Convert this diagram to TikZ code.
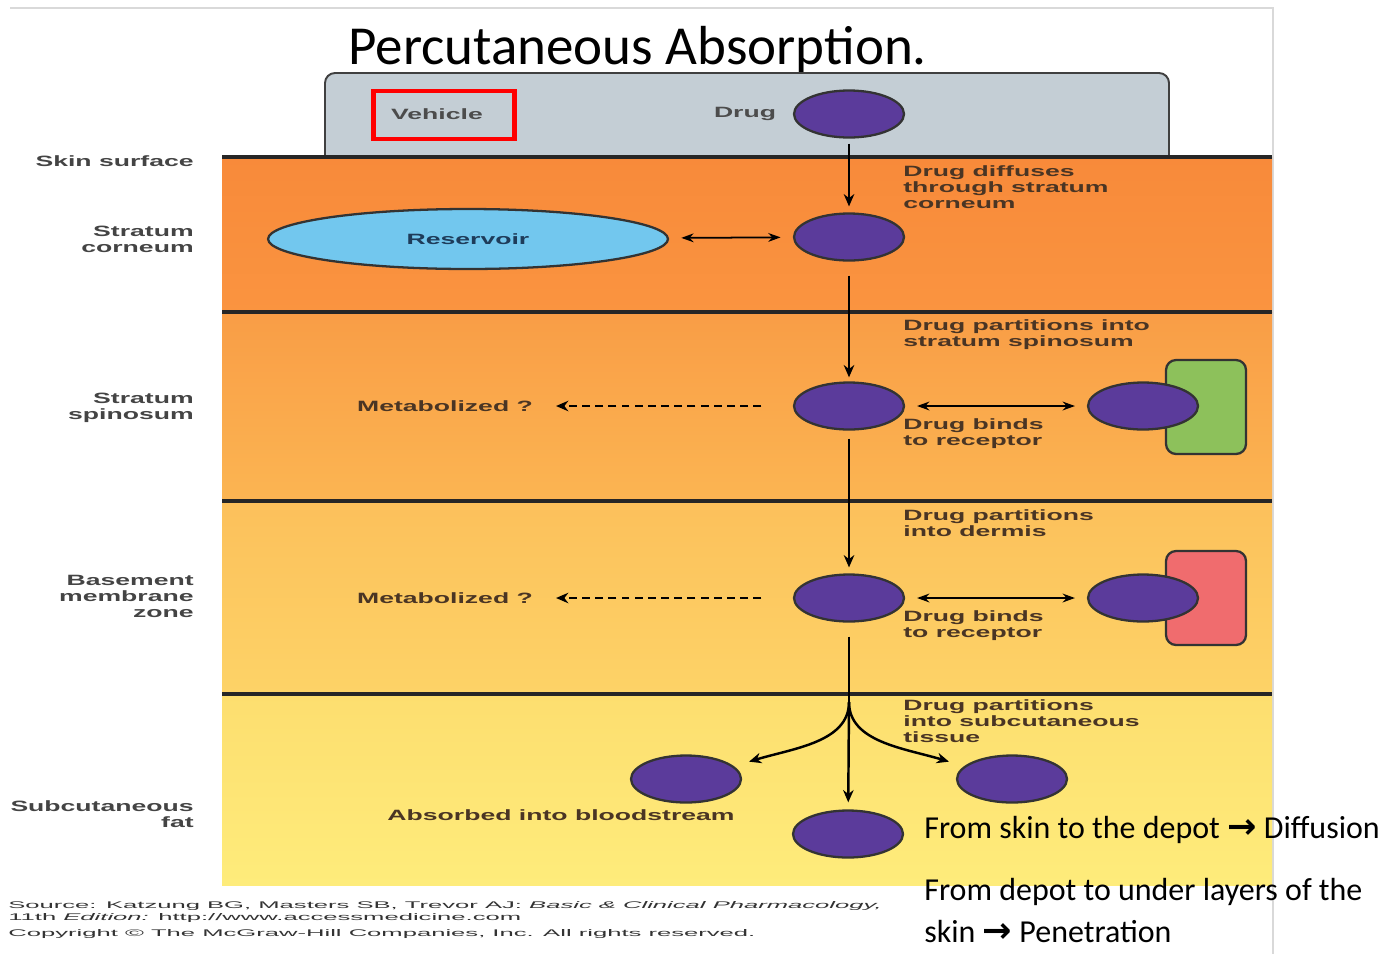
\documentclass[tikz,border=0pt]{standalone}
\usepackage{fontspec}
\setmainfont{Carlito}
\newfontfamily\figfont[FakeStretch=1.78]{Liberation Sans Bold}
\newfontfamily\srcfont[FakeStretch=2.65]{Liberation Sans}
\newfontfamily\symfont{DejaVu Sans}
\usetikzlibrary{shapes.geometric,arrows.meta}

\definecolor{drugpurple}{HTML}{5B3B9B}
\definecolor{vehiclegrey}{HTML}{C4CED5}
\definecolor{reservoirblue}{HTML}{72C7EE}
\definecolor{receptorgreen}{HTML}{8DC15B}
\definecolor{receptorred}{HTML}{F06C6E}
\definecolor{labelgrey}{HTML}{444444}
\definecolor{notebrown}{HTML}{4A3524}
\definecolor{slideedge}{HTML}{D9D9D9}

\begin{document}
\begin{tikzpicture}[x=0.02cm,y=-0.02cm,
		drug/.style={ellipse,draw=black!80,line width=1.3pt,fill=drugpurple,minimum width=2.2cm,minimum height=0.94cm,inner sep=0pt},
		receptor/.style={rectangle,rounded corners=0.2cm,draw=black!80,line width=1.3pt,minimum width=1.6cm,minimum height=1.88cm},
		layer/.style={line width=2.3pt,draw=black!85},
		flow/.style={-{Stealth[length=7pt,width=6pt]},line width=1.4pt},
		both/.style={{Stealth[length=7pt,width=5pt]}-{Stealth[length=7pt,width=5pt]},line width=1pt},
		guess/.style={-{Stealth[length=7pt,width=6pt]},line width=1pt,dash pattern=on 4.5pt off 3pt},
		lbl/.style={font=\figfont\fontsize{8.5pt}{9.1pt}\selectfont,text=notebrown,inner sep=0pt},
		note/.style={lbl,align=left,anchor=north west},
		side/.style={lbl,text=labelgrey,align=right,anchor=north east},
		src/.style={font=\srcfont\fontsize{5.5pt}{6pt}\selectfont,text=black!80,anchor=base west,inner sep=0pt},
		remark/.style={font=\fontsize{18.2pt}{21pt}\selectfont,anchor=base west,inner sep=0pt}]
		
		\useasboundingbox (0,0) rectangle (1398,954);
		\draw[slideedge,line width=1.2pt] (10,8) -- (1273,8) -- (1273,954);
		
		\node[anchor=base west,inner sep=0pt,font=\fontsize{31.3pt}{36pt}\selectfont] (title) at (348,64) {Percutaneous Absorption.};
		
		\draw[rounded corners=0.2cm,fill=vehiclegrey,draw=black!75,line width=1.1pt] (325,73) rectangle (1169,165);
		
		\shade[top color={rgb,255:red,248;green,138;blue,58},bottom color={rgb,255:red,250;green,148;blue,64}] (222,157) rectangle (1272,312);
		\shade[top color={rgb,255:red,249;green,157;blue,70},bottom color={rgb,255:red,251;green,181;blue,82}] (222,312) rectangle (1272,501);
		\shade[top color={rgb,255:red,252;green,192;blue,91},bottom color={rgb,255:red,253;green,211;blue,103}] (222,501) rectangle (1272,694);
		\shade[top color={rgb,255:red,253;green,222;blue,111},bottom color={rgb,255:red,254;green,236;blue,123}] (222,694) rectangle (1272,885);
		
		\draw[layer] (222,157) -- (1272,157);
		\draw[layer] (222,312) -- (1272,312);
		\draw[layer] (222,501) -- (1272,501);
		\draw[layer] (222,694) -- (1272,694);
		
		\node[side] (skin) at (194,155) {Skin surface};
		\node[side] (corneum) at (194,226) {Stratum\\corneum};
		\node[side] (spinosum) at (194,393) {Stratum\\spinosum};
		\node[side] (basement) at (194,575) {Basement\\membrane\\zone};
		\node[side] (fat) at (194,800) {Subcutaneous\\fat};
		
		\node[lbl,text=black!70] (vehicle) at (437,114) {Vehicle};
		\node[draw=red,line width=2.5pt,minimum width=2.82cm,minimum height=0.95cm] (mark) at (444,115) {};
		\node[lbl,text=black!70] (druglbl) at (745,114) {Drug};
		
		\node[drug] (drug) at (849,114) {};
		\node[drug] (corn) at (849,237) {};
		\node[drug] (spin) at (849,406) {};
		\node[drug] (derm) at (849,598) {};
		\node[receptor,fill=receptorgreen] (rec1) at (1206,407) {};
		\node[drug] (bound1) at (1143,406) {};
		\node[receptor,fill=receptorred] (rec2) at (1206,598) {};
		\node[drug] (bound2) at (1143,598) {};
		\node[drug] (fatL) at (686,779) {};
		\node[drug] (fatR) at (1012,779) {};
		\node[drug] (blood) at (848,834) {};
		\node[ellipse,draw=black!80,line width=1.3pt,fill=reservoirblue,minimum width=8cm,minimum height=1.2cm,inner sep=0pt,font=\figfont\fontsize{8.5pt}{9.1pt}\selectfont,text={rgb,255:red,30;green,60;blue,90}] (res) at (468,239) {Reservoir};
		\coordinate (split) at (849,702);
		
		\node[lbl] (met1) at (445,406) {Metabolized ?};
		\node[lbl] (met2) at (445,598) {Metabolized ?};
		\node[lbl] (absorbed) at (561,815) {Absorbed into bloodstream};
		
		\node[note] (diffuses) at (903,165) {Drug diffuses\\through stratum\\corneum};
		\node[note] (intospin) at (903,319) {Drug partitions into\\stratum spinosum};
		\node[note] (binds1) at (903,418) {Drug binds\\to receptor};
		\node[note] (intoderm) at (903,509) {Drug partitions\\into dermis};
		\node[note] (binds2) at (903,610) {Drug binds\\to receptor};
		\node[note] (intosub) at (903,699) {Drug partitions\\into subcutaneous\\tissue};
		
		\draw[flow,shorten <=2.8pt,shorten >=3.4pt] (drug) -- (corn);
		\draw[flow,shorten <=8pt,shorten >=2.3pt] (corn) -- (spin);
		\draw[flow,shorten <=4.5pt,shorten >=3.4pt] (spin) -- (derm);
		\draw[line width=1.4pt,shorten <=8pt] (derm) -- (split);
		\draw[flow,shorten >=4pt] (split) -- (blood);
		\draw[flow,shorten >=9pt] (split) .. controls +(0,40) and +(60,-18) .. (fatL.15);
		\draw[flow,shorten >=9pt] (split) .. controls +(0,40) and +(-60,-18) .. (fatR.165);
		
		\draw[both,shorten <=7pt,shorten >=7pt] (res) -- (corn);
		\draw[both,shorten <=6.8pt,shorten >=6.8pt] (spin) -- (bound1);
		\draw[both,shorten <=6.8pt,shorten >=6.8pt] (derm) -- (bound2);
		\draw[guess,shorten <=18pt,shorten >=13pt] (spin) -- (met1);
		\draw[guess,shorten <=18pt,shorten >=13pt] (derm) -- (met2);
		
		\node[src] (source) at (8,908) {Source: Katzung BG, Masters SB, Trevor AJ: \textit{Basic \& Clinical Pharmacology,}};
		\node[src] (edition) at (8,920) {11th \textit{Edition:} http://www.accessmedicine.com};
		\node[src] (copy) at (8,936) {Copyright \textcopyright{} The McGraw-Hill Companies, Inc. All rights reserved.};
		
		\node[remark] (diffusion) at (924,838) {From skin to the depot {\symfont\bfseries\fontsize{20pt}{21pt}\selectfont →} Diffusion};
		\node[remark] (penetration) at (924,900) {From depot to under layers of the};
		\node[remark] (penetration2) at (924,942) {skin {\symfont\bfseries\fontsize{20pt}{21pt}\selectfont →} Penetration};
	\end{tikzpicture}
\end{document}
